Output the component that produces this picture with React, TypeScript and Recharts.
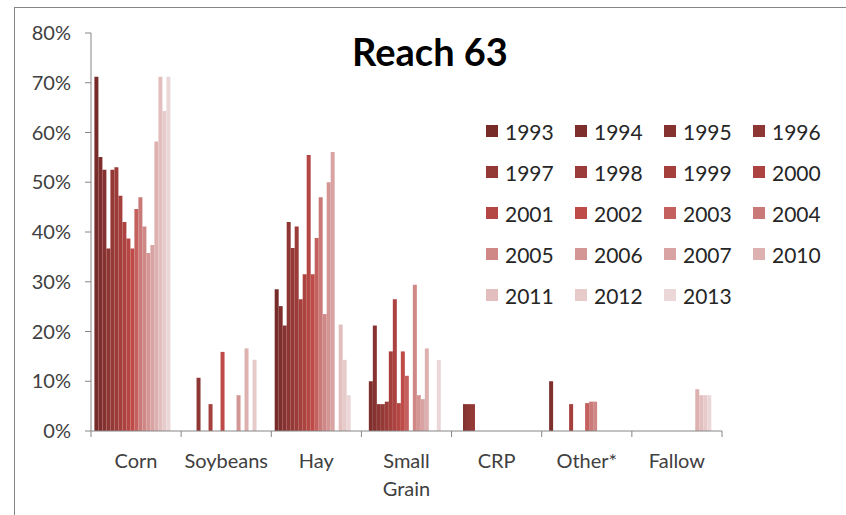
import React from 'react';
import { BarChart, Bar, XAxis, YAxis, Legend } from 'recharts';

// Reach 63 land use share by crop type, per survey year (percent)
const years = [
  '1993', '1994', '1995', '1996', '1997', '1998', '1999', '2000', '2001', '2002',
  '2003', '2004', '2005', '2006', '2007', '2010', '2011', '2012', '2013'
];

const categories = ['Corn', 'Soybeans', 'Hay', 'Small Grain', 'CRP', 'Other*', 'Fallow'];

const corn = [71.2, 55.1, 52.5, 36.7, 52.5, 53.0, 47.3, 42.0, 38.7, 36.7, 44.6, 47.0, 41.1, 35.8, 37.4, 58.2, 71.2, 64.3, 71.2];
const soybeans = [0, 0, 0, 10.7, 0, 0, 5.4, 0, 0, 15.9, 0, 0, 0, 7.2, 0, 16.6, 0, 14.3, 0];
const hay = [28.5, 25.1, 21.2, 42.0, 36.8, 41.1, 26.5, 31.5, 55.5, 31.5, 38.8, 47.0, 23.5, 50.0, 56.1, 0, 21.4, 14.3, 7.2];
const smallGrain = [0, 10.0, 21.2, 5.4, 5.4, 5.9, 16.0, 26.5, 5.6, 16.0, 11.1, 0, 29.4, 7.2, 6.4, 16.6, 0, 0, 14.3];
const crp = [0, 0, 5.4, 5.4, 5.4, 0, 0, 0, 0, 0, 0, 0, 0, 0, 0, 0, 0, 0, 0];
const other = [0, 10.0, 0, 0, 0, 0, 5.4, 0, 0, 0, 5.6, 5.9, 5.9, 0, 0, 0, 0, 0, 0];
const fallow = [0, 0, 0, 0, 0, 0, 0, 0, 0, 0, 0, 0, 0, 0, 0, 8.4, 7.2, 7.2, 7.2];

const yTicks = [0, 10, 20, 30, 40, 50, 60, 70, 80];

const COLORS = [
  '#772c2a', '#7e2f2d', '#863231', '#8e3634', '#953937', '#9c3c3a', '#a53f3c',
  '#ac4340', '#b44744', '#be4b48', '#c4605d', '#c97a78', '#cf8886', '#d49694',
  '#d8a3a2', '#ddb1b0', '#e2bfbe', '#e6cbca', '#ebd7d7'
];

const series = [corn, soybeans, hay, smallGrain, crp, other, fallow];

const data = categories.map((name, i) => {
  const row: Record<string, string | number> = { name };
  years.forEach((y, j) => {
    row[y] = series[i][j];
  });
  return row;
});

const FONT = 'Lato, "Open Sans", sans-serif';
const BAND = 631 / categories.length;

function CategoryTick(props: any) {
  const { x, y, payload, index } = props;
  const lines = String(payload.value).split(' ');
  return (
    <g>
      <line x1={x - BAND / 2} y1={y} x2={x - BAND / 2} y2={y + 6} stroke="#868686" />
      {index === categories.length - 1 && (
        <line x1={x + BAND / 2} y1={y} x2={x + BAND / 2} y2={y + 6} stroke="#868686" />
      )}
      <text x={x} y={y + 37} textAnchor="middle" fill="#404040" fontSize={20} fontFamily={FONT}>
        {lines.map((l, i) => (
          <tspan key={i} x={x} dy={i === 0 ? 0 : 28}>
            {l}
          </tspan>
        ))}
      </text>
    </g>
  );
}

function YearLegend() {
  return (
    <div
      style={{
        display: 'grid',
        gridTemplateColumns: 'repeat(4, 89px)',
        gridAutoRows: '41px',
        fontFamily: FONT,
        fontSize: 21,
        color: '#262626'
      }}
    >
      {years.map((y, i) => (
        <div key={y} style={{ display: 'flex', alignItems: 'center', height: 26 }}>
          <span
            style={{
              width: 12,
              height: 12,
              background: COLORS[i],
              display: 'inline-block',
              marginRight: 7
            }}
          />
          <span>{y}</span>
        </div>
      ))}
    </div>
  );
}

export default function App() {
  return (
    <div style={{ position: 'absolute', left: 0, top: 0, width: 846, height: 515, overflow: 'hidden', background: '#fff' }}>
      <div
        style={{
          position: 'absolute',
          left: 14,
          top: 7,
          width: 900,
          height: 600,
          borderLeft: '1px solid #868686',
          borderTop: '1px solid #868686'
        }}
      />
      <div
        style={{
          position: 'absolute',
          left: 0,
          width: 860,
          top: 28,
          textAlign: 'center',
          fontFamily: FONT,
          fontWeight: 700,
          fontSize: 38,
          color: '#000'
        }}
      >
        Reach 63
      </div>
      <div style={{ position: 'absolute', left: 0, top: 0 }}>
        <BarChart
          width={846}
          height={515}
          data={data}
          margin={{ top: 33, right: 124, bottom: 0, left: 0 }}
          barCategoryGap={3.4}
          barGap={0}
        >
          <XAxis
            dataKey="name"
            height={84}
            stroke="#868686"
            tickLine={false}
            tickSize={0}
            tickMargin={0}
            interval={0}
            tick={<CategoryTick />}
          />
          <YAxis
            width={91}
            domain={[0, 80]}
            ticks={yTicks}
            tickFormatter={(v: number) => `${v}%`}
            stroke="#868686"
            tickSize={6}
            tickMargin={14}
            tick={{ fill: '#404040', fontSize: 20, fontFamily: FONT }}
            interval={0}
          />
          <Legend
            content={<YearLegend />}
            layout="horizontal"
            verticalAlign="middle"
            align="center"
            wrapperStyle={{ position: 'absolute', left: 486, top: 118, width: 360 }}
          />
          {years.map((y, i) => (
            <Bar key={y} dataKey={y} fill={COLORS[i]} isAnimationActive={false} />
          ))}
        </BarChart>
      </div>
    </div>
  );
}
